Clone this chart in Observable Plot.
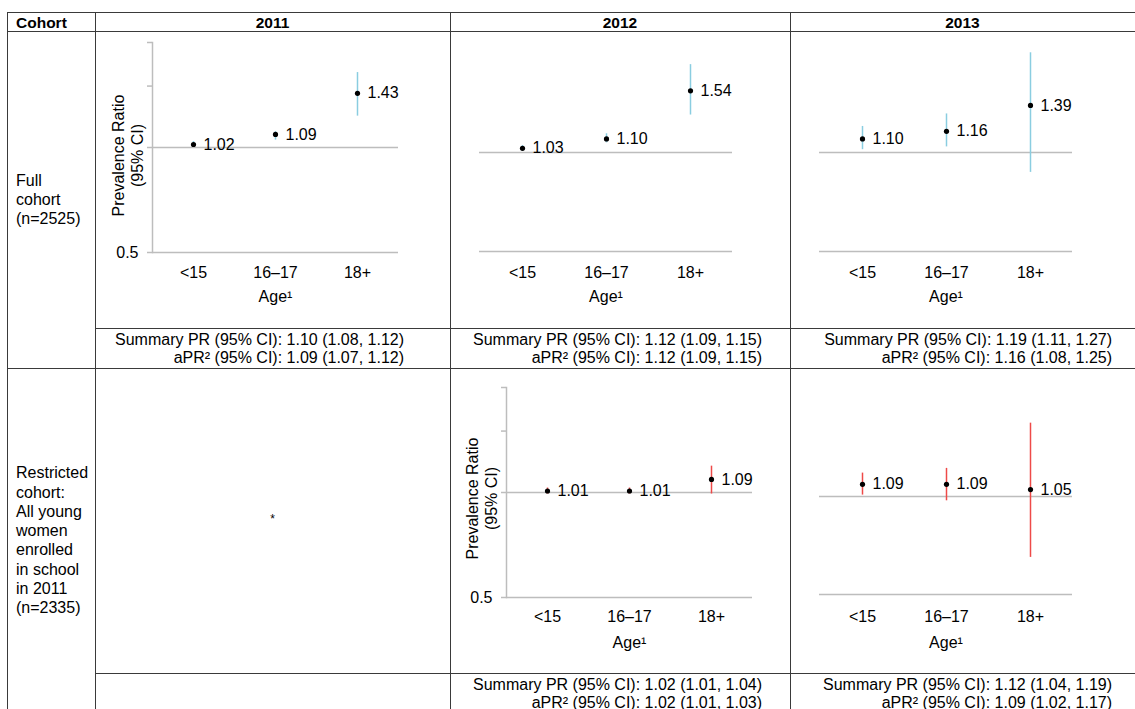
<!DOCTYPE html>
<html>
<head>
<meta charset="utf-8">
<script src="https://cdn.jsdelivr.net/npm/d3@7"></script>
<script src="https://cdn.jsdelivr.net/npm/@observablehq/plot@0.6"></script>
<style>
  html, body { margin: 0; padding: 0; background: #fff; }
  body { font-family: "Liberation Sans", Arial, Helvetica, sans-serif; color: #000; }
  #fig { position: relative; width: 1135px; height: 709px; overflow: hidden; background: #fff; }
  .h, .v { position: absolute; background: #3a3a3a; }
  .h { height: 1px; }
  .v { width: 1px; }
  .abs { position: absolute; }
  .hdr { font-weight: bold; font-size: 15.5px; line-height: 19px; }
  .cohort { font-size: 16px; }
  .summary { position: absolute; font-size: 16px; line-height: 18px; text-align: right; white-space: nowrap; }
  .panel { position: absolute; }
</style>
</head>
<body>
<div id="fig"></div>
<script>
// ---------------- data ----------------
const years = ["2011", "2012", "2013"];
const ages = ["<15", "16–17", "18+"];
const yTicks = [0.5, 1, 1.5, 2];
const yTickLabels = ["0.5", "", "", ""];
const refLines = [1, 0.5];
const xAxisLabel = "Age¹";
const yAxisLabel = "Prevalence Ratio\n(95% CI)";

const cohortLabels = [
  ["Full", "cohort", "(n=2525)"],
  ["Restricted", "cohort:", "All young", "women", "enrolled", "in school", "in 2011", "(n=2335)"]
];

// Full cohort
const full2011PR = [1.02, 1.09, 1.43];
const full2011Lo = [1.00, 1.05, 1.23];
const full2011Hi = [1.04, 1.11, 1.64];
const full2012PR = [1.03, 1.10, 1.54];
const full2012Lo = [1.01, 1.07, 1.30];
const full2012Hi = [1.05, 1.14, 1.85];
const full2013PR = [1.10, 1.16, 1.39];
const full2013Lo = [1.02, 1.04, 0.87];
const full2013Hi = [1.20, 1.31, 2.01];
// Restricted cohort (2011 not estimated)
const restr2012PR = [1.01, 1.01, 1.09];
const restr2012Lo = [0.99, 0.99, 0.99];
const restr2012Hi = [1.03, 1.03, 1.19];
const restr2013PR = [1.09, 1.09, 1.05];
const restr2013Lo = [1.01, 0.97, 0.65];
const restr2013Hi = [1.18, 1.22, 1.68];

const summaryPRFull = ["1.10 (1.08, 1.12)", "1.12 (1.09, 1.15)", "1.19 (1.11, 1.27)"];
const aPRFull = ["1.09 (1.07, 1.12)", "1.12 (1.09, 1.15)", "1.16 (1.08, 1.25)"];
const summaryPRRestr = [null, "1.02 (1.01, 1.04)", "1.12 (1.04, 1.19)"];
const aPRRestr = [null, "1.02 (1.01, 1.03)", "1.09 (1.02, 1.17)"];
const missingMark = "*";

// ---------------- layout ----------------
const fig = document.getElementById("fig");
const FONT = '"Liberation Sans", Arial, Helvetica, sans-serif';
const BLUE = "#8acde0";
const RED = "#ee4a48";
const GRID = "#bdbdbd";
const FS = 16;

const colX = [7, 95, 450, 790, 1135];
const summaryRight = [404, 762, 1112];
const rowY = { top: 12, hdr: 31, sum1: 328, row2: 368, sum2: 673, end: 713 };

function hline(x1, x2, y) {
  const d = document.createElement("div");
  d.className = "h";
  Object.assign(d.style, { left: x1 + "px", top: y + "px", width: (x2 - x1) + "px" });
  fig.appendChild(d);
}
function vline(x, y1, y2) {
  const d = document.createElement("div");
  d.className = "v";
  Object.assign(d.style, { left: x + "px", top: y1 + "px", height: (y2 - y1) + "px" });
  fig.appendChild(d);
}
function abs(html, style, cls) {
  const d = document.createElement("div");
  d.className = "abs " + (cls || "");
  d.innerHTML = html;
  Object.assign(d.style, style);
  fig.appendChild(d);
  return d;
}

// grid lines of the table
hline(colX[0], 1135, rowY.top);
hline(colX[0], 1135, rowY.hdr);
hline(colX[1], 1135, rowY.sum1);
hline(colX[0], 1135, rowY.row2);
hline(colX[1], 1135, rowY.sum2);
vline(colX[0], rowY.top, 720);
vline(colX[1], rowY.top, 720);
vline(colX[2], rowY.top, 720);
vline(colX[3], rowY.top, 720);

// headers
abs("Cohort", { left: "16px", top: "12.5px" }, "hdr");
years.forEach((y, i) => {
  abs(y, { left: colX[i + 1] + "px", width: (colX[i + 2] - colX[i + 1]) + "px", top: "12.5px", textAlign: "center" }, "hdr");
});

// cohort labels (vertically centred in their row span)
function cohortCell(lines, y1, y2, lh) {
  const d = abs(lines.join("<br>"), { left: "16px", lineHeight: lh + "px" }, "cohort");
  const h = lines.length * lh;
  d.style.top = ((y1 + y2) / 2 - h / 2) + "px";
}
cohortCell(cohortLabels[0], rowY.hdr, rowY.row2, 19);
cohortCell(cohortLabels[1], rowY.row2, rowY.end, 19.3);

// summary text (right-aligned lines)
function summaryCell(i, top, pr, apr) {
  if (!pr) return;
  const d = document.createElement("div");
  d.className = "summary";
  Object.assign(d.style, { right: (1135 - summaryRight[i]) + "px", top: (top + 3) + "px" });
  d.innerHTML = `Summary PR (95% CI): ${pr}<br>aPR² (95% CI): ${apr}`;
  fig.appendChild(d);
}
years.forEach((y, i) => {
  summaryCell(i, rowY.sum1, summaryPRFull[i], aPRFull[i]);
  summaryCell(i, rowY.sum2, summaryPRRestr[i], aPRRestr[i]);
});

// missing panel
abs(missingMark, { left: (colX[1]) + "px", width: (colX[2] - colX[1]) + "px", top: "512px", textAlign: "center", fontSize: "12px" });

// ---------------- panels ----------------
function rowsOf(pr, lo, hi) {
  return ages.map((age, i) => ({ age, pr: pr[i], lo: lo[i], hi: hi[i] }));
}

function panel(o) {
  const rows = rowsOf(o.pr, o.lo, o.hi);
  const marks = [
    Plot.ruleY(refLines, { stroke: GRID, strokeWidth: 1.5 })
  ];
  if (o.yAxis) {
    marks.push(
      Plot.frame({ anchor: "left", stroke: GRID, strokeWidth: 1.5 }),
      Plot.axisY({ ticks: yTicks, tickFormat: d => yTickLabels[yTicks.indexOf(d)], tickSize: 5, tickPadding: 9, stroke: GRID, strokeWidth: 1.5, fontSize: FS, label: null }),
      Plot.text([yAxisLabel], { frameAnchor: "left", text: d => d, rotate: -90, textAnchor: "middle", lineAnchor: "middle", dx: -25, dy: o.yLabelDy, lineHeight: 1.2, fontSize: FS })
    );
  }
  marks.push(
    Plot.axisX({ tickSize: 0, tickPadding: o.tickPad, fontSize: FS, label: null }),
    Plot.text([xAxisLabel], { frameAnchor: "bottom", text: d => d, lineAnchor: "middle", dy: o.ageDy, fontSize: FS }),
    Plot.ruleX(rows, { x: "age", y1: "lo", y2: "hi", stroke: o.color, strokeWidth: 1.5 }),
    Plot.dot(rows, { x: "age", y: "pr", r: 2.6, fill: "black", stroke: null }),
    Plot.text(rows, { x: "age", y: "pr", text: d => d.pr.toFixed(2), dx: 10, textAnchor: "start", fontSize: FS })
  );
  const svg = Plot.plot({
    width: o.width,
    height: o.height,
    marginLeft: o.mL, marginRight: o.mR, marginTop: o.mT, marginBottom: o.mB,
    x: { type: "point", domain: ages, padding: 0.5, axis: null },
    y: { type: "log", domain: [0.5, 2], axis: null },
    style: { fontFamily: FONT, fontSize: FS + "px", color: "black", background: "transparent", overflow: "visible" },
    marks
  });
  const wrap = document.createElement("div");
  wrap.className = "panel";
  Object.assign(wrap.style, { left: o.left + "px", top: o.top + "px", width: o.width + "px", height: o.height + "px" });
  wrap.appendChild(svg);
  fig.appendChild(wrap);
}

// Full cohort
panel({ pr: full2011PR, lo: full2011Lo, hi: full2011Hi, color: BLUE, yAxis: true,
  left: 95, top: 31, width: 355, height: 297, mL: 57, mR: 52, mT: 11, mB: 76, tickPad: 14, ageDy: 44, yLabelDy: 8 });
panel({ pr: full2012PR, lo: full2012Lo, hi: full2012Hi, color: BLUE, yAxis: false,
  left: 450, top: 31, width: 340, height: 297, mL: 29, mR: 58, mT: 22, mB: 77, tickPad: 15, ageDy: 45 });
panel({ pr: full2013PR, lo: full2013Lo, hi: full2013Hi, color: BLUE, yAxis: false,
  left: 790, top: 31, width: 345, height: 297, mL: 29, mR: 63, mT: 22, mB: 77, tickPad: 15, ageDy: 45 });
// Restricted cohort
panel({ pr: restr2012PR, lo: restr2012Lo, hi: restr2012Hi, color: RED, yAxis: true,
  left: 450, top: 368, width: 340, height: 305, mL: 56, mR: 38, mT: 19, mB: 76, tickPad: 13, ageDy: 45, yLabelDy: 6 });
panel({ pr: restr2013PR, lo: restr2013Lo, hi: restr2013Hi, color: RED, yAxis: false,
  left: 790, top: 368, width: 345, height: 305, mL: 29, mR: 63, mT: 30, mB: 79, tickPad: 16, ageDy: 48 });
</script>
</body>
</html>
